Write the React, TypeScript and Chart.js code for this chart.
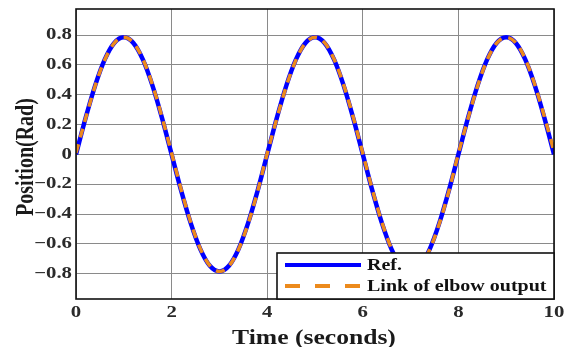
import React, { useEffect, useRef } from "react";
import { Chart, registerables } from "chart.js";

Chart.register(...registerables);

const timeValues = [
  0, 0.2, 0.4, 0.6, 0.8, 1.0, 1.2, 1.4, 1.6, 1.8,
  2.0, 2.2, 2.4, 2.6, 2.8, 3.0, 3.2, 3.4, 3.6, 3.8,
  4.0, 4.2, 4.4, 4.6, 4.8, 5.0, 5.2, 5.4, 5.6, 5.8,
  6.0, 6.2, 6.4, 6.6, 6.8, 7.0, 7.2, 7.4, 7.6, 7.8,
  8.0, 8.2, 8.4, 8.6, 8.8, 9.0, 9.2, 9.4, 9.6, 9.8,
  10.0,
];

const refValues = [
  0, 0.243, 0.461, 0.635, 0.747, 0.785, 0.747, 0.635, 0.461, 0.243,
  0, -0.243, -0.461, -0.635, -0.747, -0.785, -0.747, -0.635, -0.461, -0.243,
  0, 0.243, 0.461, 0.635, 0.747, 0.785, 0.747, 0.635, 0.461, 0.243,
  0, -0.243, -0.461, -0.635, -0.747, -0.785, -0.747, -0.635, -0.461, -0.243,
  0, 0.243, 0.461, 0.635, 0.747, 0.785, 0.747, 0.635, 0.461, 0.243,
  0,
];

const elbowValues = [
  0.01, 0.24, 0.458, 0.633, 0.746, 0.785, 0.749, 0.639, 0.466, 0.249,
  0.008, -0.236, -0.456, -0.632, -0.746, -0.785, -0.749, -0.638, -0.465, -0.248,
  0.006, 0.238, 0.457, 0.632, 0.746, 0.785, 0.749, 0.638, 0.466, 0.249,
  0.007, -0.237, -0.456, -0.632, -0.746, -0.785, -0.749, -0.638, -0.465, -0.248,
  0.006, 0.238, 0.457, 0.632, 0.746, 0.785, 0.749, 0.639, 0.467, 0.252,
  0.02,
];

const xTicks = [0, 2, 4, 6, 8, 10];
const yTicks = [-0.8, -0.6, -0.4, -0.2, 0, 0.2, 0.4, 0.6, 0.8];

const seriesNames = ["Ref.", "Link of elbow output"];
const xTitle = "Time (seconds)";
const yTitle = "Position(Rad)";

const BLUE = "#0000FF";
const ORANGE = "#EC8A1C";
const SERIF = "'Liberation Serif', 'Times New Roman', serif";
const STRETCH = 1.3;

const fmt = (v: number) => {
  if (Math.abs(v) < 1e-9) return "0";
  const s = Math.abs(v).toFixed(1);
  return v < 0 ? "\u2212" + s : s;
};

function stretchedText(ctx: any, text: string, x: number, y: number, align: "left" | "center" | "right", sx: number) {
  ctx.save();
  ctx.translate(x, y);
  ctx.scale(sx, 1);
  ctx.textAlign = align;
  ctx.fillText(text, 0, 0);
  ctx.restore();
}

const decorPlugin = {
  id: "decor",
  afterDatasetsDraw(chart: any) {
    const { ctx, chartArea, scales } = chart;
    const { left, right, top, bottom } = chartArea;
    ctx.save();
    // plot border
    ctx.strokeStyle = "#111";
    ctx.lineWidth = 1.6;
    ctx.strokeRect(left, top, right - left, bottom - top);

    // tick labels
    ctx.fillStyle = "#2a2a2a";
    ctx.font = `bold 16px ${SERIF}`;
    ctx.textBaseline = "middle";
    for (const v of yTicks) {
      const py = scales.y.getPixelForValue(v);
      stretchedText(ctx, fmt(v), left - 4, py, "right", STRETCH);
    }
    for (const v of xTicks) {
      const px = scales.x.getPixelForValue(v);
      stretchedText(ctx, String(v), px, bottom + 14, "center", STRETCH);
    }

    // legend box
    const bx = 277, by = 253, bw = right - bx, bh = bottom - by;
    ctx.fillStyle = "#fff";
    ctx.fillRect(bx, by, bw, bh);
    ctx.strokeStyle = "#111";
    ctx.lineWidth = 1.6;
    ctx.strokeRect(bx, by, bw, bh);

    const lx0 = bx + 8, lx1 = bx + 84;
    const r1 = by + 12, r2 = by + 33;
    ctx.lineWidth = 4;
    ctx.strokeStyle = BLUE;
    ctx.setLineDash([]);
    ctx.beginPath();
    ctx.moveTo(lx0, r1);
    ctx.lineTo(lx1, r1);
    ctx.stroke();
    ctx.strokeStyle = ORANGE;
    ctx.setLineDash([15, 15]);
    ctx.beginPath();
    ctx.moveTo(lx0, r2);
    ctx.lineTo(lx1, r2);
    ctx.stroke();
    ctx.setLineDash([]);

    ctx.fillStyle = "#111";
    ctx.font = `bold 16px ${SERIF}`;
    ctx.textBaseline = "middle";
    stretchedText(ctx, seriesNames[0], lx1 + 6, r1 + 1, "left", 1.25);
    stretchedText(ctx, seriesNames[1], lx1 + 6, r2 + 1, "left", 1.25);

    // axis titles
    ctx.fillStyle = "#1a1a1a";
    ctx.font = `bold 20px ${SERIF}`;
    ctx.textBaseline = "alphabetic";
    stretchedText(ctx, xTitle, 314, 344, "center", 1.28);

    ctx.save();
    ctx.translate(33, 157);
    ctx.rotate(-Math.PI / 2);
    ctx.scale(1, 1.3);
    ctx.font = `bold 20px ${SERIF}`;
    ctx.textAlign = "center";
    ctx.fillText(yTitle, 0, 0);
    ctx.restore();

    ctx.restore();
  },
};

export default function App() {
  const ref = useRef<HTMLCanvasElement | null>(null);

  useEffect(() => {
    if (!ref.current) return;
    const mk = (vals: number[]) => timeValues.map((t, i) => ({ x: t, y: vals[i] }));
    const chart = new Chart(ref.current, {
      type: "line",
      data: {
        datasets: [
          {
            label: seriesNames[0],
            data: mk(refValues),
            borderColor: BLUE,
            borderWidth: 4.5,
            pointRadius: 0,
            cubicInterpolationMode: "monotone",
            order: 1,
          },
          {
            label: seriesNames[1],
            data: mk(elbowValues),
            borderColor: ORANGE,
            borderWidth: 3.5,
            borderDash: [9, 7],
            pointRadius: 0,
            cubicInterpolationMode: "monotone",
            order: 0,
          },
        ],
      },
      options: {
        animation: false,
        responsive: true,
        maintainAspectRatio: false,
        layout: { padding: { left: 0, right: 12, top: 9, bottom: 0 } },
        plugins: {
          legend: { display: false },
          tooltip: { enabled: false },
        },
        scales: {
          x: {
            type: "linear",
            min: 0,
            max: 10,
            afterBuildTicks: (s: any) => {
              s.ticks = xTicks.map((v) => ({ value: v }));
            },
            afterFit: (s: any) => {
              s.height = 48;
            },
            grid: { color: "#8a8a8a", lineWidth: 1, drawTicks: false },
            border: { display: false },
            ticks: { display: false },
          },
          y: {
            type: "linear",
            min: -0.97,
            max: 0.975,
            afterBuildTicks: (s: any) => {
              s.ticks = yTicks.map((v) => ({ value: v }));
            },
            afterFit: (s: any) => {
              s.width = 76;
            },
            grid: { color: "#8a8a8a", lineWidth: 1, drawTicks: false },
            border: { display: false },
            ticks: { display: false },
          },
        },
      },
      plugins: [decorPlugin],
    });
    return () => chart.destroy();
  }, []);

  return (
    <div style={{ position: "fixed", left: 0, top: 0, width: 566, height: 347, background: "#fff" }}>
      <canvas ref={ref} />
    </div>
  );
}
